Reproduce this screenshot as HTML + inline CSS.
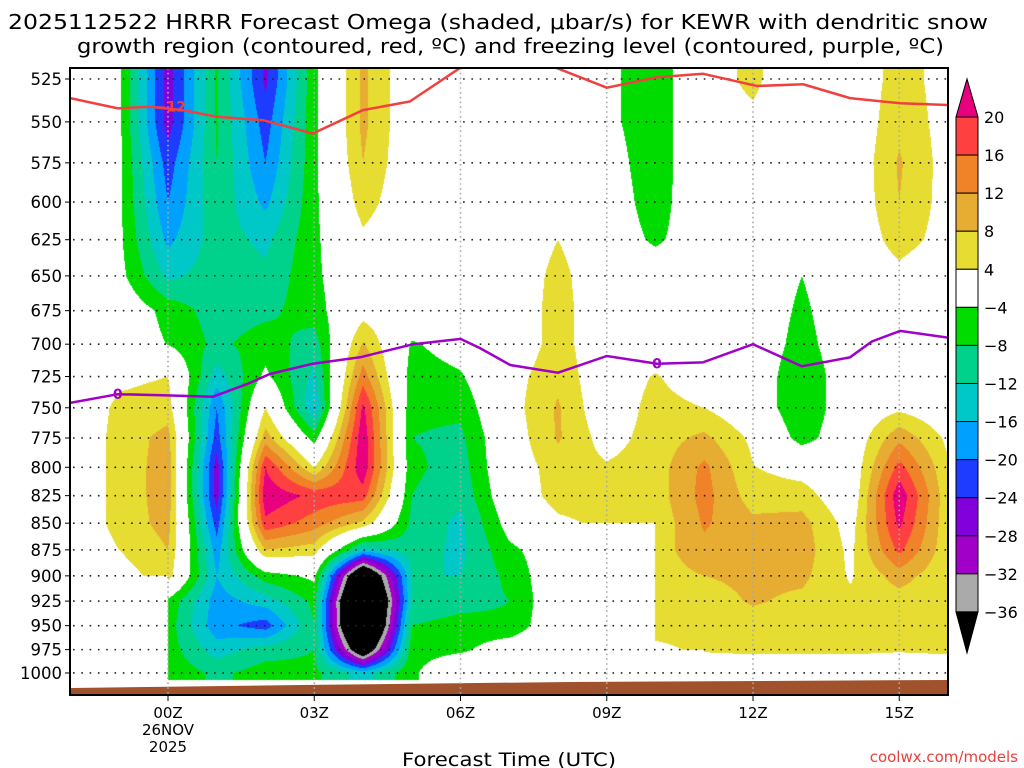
<!DOCTYPE html>
<html><head><meta charset="utf-8"><title>HRRR Omega KEWR</title>
<style>
html,body{margin:0;padding:0;background:#fff;}
#wrap{position:relative;width:1024px;height:768px;overflow:hidden;background:#fff;}
canvas,svg{position:absolute;left:0;top:0;}
text{font-family:"DejaVu Sans","Liberation Sans",sans-serif;}
</style></head>
<body>
<div id="wrap">
<canvas id="shade" width="1024" height="768"></canvas>
<svg id="ov" width="1024" height="768"></svg>
</div>
<script>
// ---- data ----
const times = [-2,-1,0,1,2,3,4,5,6,7,8,9,10,11,12,13,14,15,16];
const pressures = [525,550,575,600,625,650,675,700,725,750,775,800,825,850,875,900,925,950,975,1000];
const N = null;
const omega = [
 [0,0,0,0,0,0,0,0,0,0,0,0,0,0,0,0,0,0,0,0],
 [-3,-3,-3,-3,-3,-2.5,0,0,3,5,5.5,5.5,5.5,5.5,4,2,N,N,N,N],
 [-26,-26,-22,-20,-17,-13,-5.5,-4.2,4,6,9.5,10,10,9.5,8,6,-5,-6,-6,-5],
 [-7.5,-7.5,-8,-9,-10,-10,-10,-9,-14,-20,-22,-26,-26,-22,-18,-16,-18,-18.5,-14,-9],
 [-25,-22,-20,-17,-13,-11,-9,-6,-3,4,10,20,23,19,8,-6,-14,-22,-10,-6],
 [-5,-5,-5,-5,-5,-5,-6,-10,-13,-16,-6,4,19,14,6,-3,-7,-8,-8,-7],
 [9,9,8,6,3,1,2,8.5,14,21,23,23,18,7,-14,-50,-62,-60,-45,-14],
 [0,0,0,0,0,0,0,-4.5,-6,-7,-8,-7,-8,-9,-10,-12,-12,-8,-6,-5],
 [0,0,0,0,0,0,0,-2,-4.5,-7,-9,-10,-11,-13,-13,-12,-10,-6,-5,2],
 [0,0,0,0,0,0,0,0,2,2,1,1,0,-2,-5,-7,-8,-7,-1,0],
 [0,0,0,0,4,5.5,6,6,7,8.5,8.5,6,6,3,-1,0,0,0,0,0],
 [-2.5,-2.5,-1,0,0,0,0,0,0,0,2,4.5,6,5,N,N,N,N,N,N],
 [-7.5,-7.5,-7.5,-7,-5,0,0,0,4.5,6,6,6,6,5,6,6,6,5,3.4,N],
 [2,2,2,2,0,0,0,0,0,4,9,13,13.5,12.5,11,8,6,5,4.5,0],
 [5,3,0,0,0,0,0,0,0,0,3,4.2,6,9,9,9,8.5,6,5,0],
 [0,0,0,0,0,-4,-5,-6,-8,-8,-6,2,6,9.5,10,9,7,5,5,0],
 [0,0,0,0,0,0,0,0,0,0,0,0,0,2,3,3.5,5,5,5,0],
 [6,7,8.5,8,6,2.5,0,0,0,3,11,17.5,23,21,17,10,6,6,4.5,0],
 [2,2,2,2,2,0,0,0,0,0,3,4.5,5,5,5,4.5,4.5,5,5,0]
];
const levels = [-36,-32,-28,-24,-20,-16,-12,-8,-4,4,8,12,16,20];
const levelColors = ["#000000","#aaaaaa","#a000c8","#8200dc","#1e3cff","#00a0ff","#00c8c8","#00d28c","#00dc00","#ffffff","#e6dc32","#e6ad32","#f08228","#ff4040","#e8007f"];
const levelLabels = ["20","16","12","8","4","\u22124","\u22128","\u221212","\u221216","\u221220","\u221224","\u221228","\u221232","\u221236"];
const redTimes = [-2.01,-1.03,-0.37,0.31,1.0,1.95,2.97,4.0,4.96,6.03,7.9,9.0,10.03,10.97,12.08,13.03,13.99,15.02,16.0];
const redPres  = [536,542,541,543,547,549,557,543,538,518,518,530,524,522,529,528,536,539,540];
const purpleTimes = [-2.01,-1.03,-0.02,0.92,1.62,2.09,2.97,3.94,5.03,6.0,6.4,7.02,8.0,9.0,10.03,10.97,12.0,13.0,13.99,14.44,15.02,16.0];
const purplePres  = [746,739,740,741,731,723,715,710,700,696,703,716,722,709,715,714,700,717,710,698,690,695];
const yTickLabels = ["525","550","575","600","625","650","675","700","725","750","775","800","825","850","875","900","925","950","975","1000"];
const xTickTimes = [0,3,6,9,12,15];
const xTickLabels = ["00Z","03Z","06Z","09Z","12Z","15Z"];

// ---- axes ----
const X0=70, X1=948, Y0=68, YB=695, DATA_BOTTOM=680;
const xOf = t => 168 + t*48.75;
const yOf = p => 79 + (Math.log(p)-Math.log(525))*921.8;
const tOfX = x => (x-168)/48.75;

// ---- shading ----
(function(){
  const cv=document.getElementById('shade'); const ctx=cv.getContext('2d');
  const w=X1-X0, h=DATA_BOTTOM-Y0;
  const img=ctx.createImageData(w,h);
  const rgb=levelColors.map(c=>[parseInt(c.substr(1,2),16),parseInt(c.substr(3,2),16),parseInt(c.substr(5,2),16)]);
  const ys=pressures.map(yOf);
  for(let j=0;j<h;j++){
    const y=Y0+j+0.5;
    let r=0, fr=0;
    if(y<=ys[0]){r=0;fr=0;} else if(y>=ys[ys.length-1]){r=ys.length-2;fr=1;}
    else { while(r<ys.length-2 && y>ys[r+1]) r++; fr=(y-ys[r])/(ys[r+1]-ys[r]); }
    for(let i=0;i<w;i++){
      const t=tOfX(X0+i+0.5);
      let c=t-times[0]; if(c<0)c=0; if(c>times.length-1)c=times.length-1;
      let ci=Math.floor(c); if(ci>times.length-2)ci=times.length-2; const fc=c-ci;
      const a=omega[ci][r], b=omega[ci+1][r], d=omega[ci][r+1], e=omega[ci+1][r+1];
      const k=(j*w+i)*4;
      let col=[255,255,255];
      if(a!==null&&b!==null&&d!==null&&e!==null){
        const v=(a*(1-fc)+b*fc)*(1-fr)+(d*(1-fc)+e*fc)*fr;
        let idx=0; while(idx<levels.length && v>=levels[idx]) idx++;
        col=rgb[idx];
      }
      img.data[k]=col[0];img.data[k+1]=col[1];img.data[k+2]=col[2];img.data[k+3]=255;
    }
  }
  ctx.putImageData(img,X0,Y0);
})();

// ---- overlay ----
const NS='http://www.w3.org/2000/svg';
const svg=document.getElementById('ov');
function mk(tag,attrs,parent){const el=document.createElementNS(NS,tag);for(const k in attrs)el.setAttribute(k,attrs[k]);(parent||svg).appendChild(el);return el;}

// ground
const ground=mk('polygon',{points:"71,688 300,685 570,682 948,680 948,694 71,694",fill:"#a0522d"});



// clip for lines
const defs=mk('defs',{});
const cp=mk('clipPath',{id:'plotclip'},defs);
mk('rect',{x:X0,y:Y0,width:X1-X0,height:YB-Y0},cp);

// horizontal gridlines
const gH=mk('g',{});


pressures.forEach(p=>{
  const l=mk('line',{x1:X0+3,x2:X1,y1:yOf(p),y2:yOf(p),stroke:"#222",'stroke-width':1.6,'stroke-dasharray':"1.6 6.7"},gH);
  
  
});
// vertical gridlines
const gV=mk('g',{});


xTickTimes.forEach(t=>{
  const l=mk('line',{x1:xOf(t),x2:xOf(t),y1:Y0,y2:YB,stroke:"#aaa",'stroke-width':1.6,'stroke-dasharray':"1.6 3.2"},gV);
  
  
});

// contour lines
function polyPts(ts,ps){return ts.map((t,i)=>xOf(t).toFixed(1)+','+yOf(ps[i]).toFixed(1)).join(' ');}
const red=mk('polyline',{points:polyPts(redTimes,redPres),fill:'none',stroke:'#f04040','stroke-width':2.5,'clip-path':'url(#plotclip)'});


const pur=mk('polyline',{points:polyPts(purpleTimes,purplePres),fill:'none',stroke:'#a000c8','stroke-width':2.5,'clip-path':'url(#plotclip)'});


const rl=mk('text',{x:xOf(0.05),y:yOf(541)+5,'font-size':14,'font-weight':'bold',fill:'#f04040','text-anchor':'middle'});
rl.textContent='\u221212';


[[ -1.03,739],[10.03,715]].forEach((q,i)=>{
  const t=mk('text',{x:xOf(q[0]),y:yOf(q[1])+5,'font-size':14,'font-weight':'bold',fill:'#a000c8','text-anchor':'middle'});
  t.textContent='0';
  
  
});

// frame
const frame=mk('rect',{x:X0,y:Y0,width:X1-X0,height:YB-Y0,fill:'none',stroke:'#000','stroke-width':2});



// y tick labels
pressures.forEach((p,i)=>{
  const t=mk('text',{x:62,y:yOf(p)+6,'font-size':16.5,'text-anchor':'end',fill:'#000'});
  t.textContent=yTickLabels[i];
  
  
  const tk=mk('line',{x1:X0-5,x2:X0,y1:yOf(p),y2:yOf(p),stroke:'#000','stroke-width':1});
  
  
});
// x tick labels
xTickTimes.forEach((tt,i)=>{
  const t=mk('text',{x:xOf(tt),y:718,'font-size':15,'text-anchor':'middle',fill:'#000'});
  t.textContent=xTickLabels[i];
  
  
  const tk=mk('line',{x1:xOf(tt),x2:xOf(tt),y1:YB,y2:YB+6,stroke:'#000','stroke-width':1});
  
  
});
const d1=mk('text',{x:xOf(0),y:735,'font-size':15,'text-anchor':'middle'}); d1.textContent='26NOV';


const d2=mk('text',{x:xOf(0),y:752,'font-size':15,'text-anchor':'middle'}); d2.textContent='2025';



// titles
const t1=mk('text',{x:8,y:29,'font-size':20,textLength:980,lengthAdjust:'spacingAndGlyphs'});
t1.textContent='2025112522 HRRR Forecast Omega (shaded, \u03bcbar/s) for KEWR with dendritic snow';


const t2=mk('text',{x:77,y:53,'font-size':20,textLength:867,lengthAdjust:'spacingAndGlyphs'});
t2.textContent='growth region (contoured, red, \u00baC) and freezing level (contoured, purple, \u00baC)';


const xt=mk('text',{x:402,y:766,'font-size':19,textLength:214,lengthAdjust:'spacingAndGlyphs'});
xt.textContent='Forecast Time (UTC)';


const cr=mk('text',{x:1018,y:762,'font-size':15,'text-anchor':'end',fill:'#e8403c'});
cr.textContent='coolwx.com/models';



// colorbar
const gC=mk('g',{});


const CB0=956, CB1=978, CBT=117, SEG=38.07;
const topTri=mk('polygon',{points:`${CB0},${CBT} ${CB1},${CBT} ${(CB0+CB1)/2},${CBT-SEG}`,fill:levelColors[14],stroke:'#000','stroke-width':1},gC);


for(let k=0;k<13;k++){
  const r=mk('rect',{x:CB0,y:CBT+k*SEG,width:CB1-CB0,height:SEG,fill:levelColors[13-k],stroke:'#000','stroke-width':1},gC);
  
  
}
const botTri=mk('polygon',{points:`${CB0},${CBT+13*SEG} ${CB1},${CBT+13*SEG} ${(CB0+CB1)/2},${CBT+14*SEG+3}`,fill:levelColors[0],stroke:'#000','stroke-width':1},gC);


levelLabels.forEach((s,k)=>{
  const t=mk('text',{x:984,y:CBT+k*SEG+6,'font-size':16},gC);
  t.textContent=s;
  
  
});
</script>
</body></html>
